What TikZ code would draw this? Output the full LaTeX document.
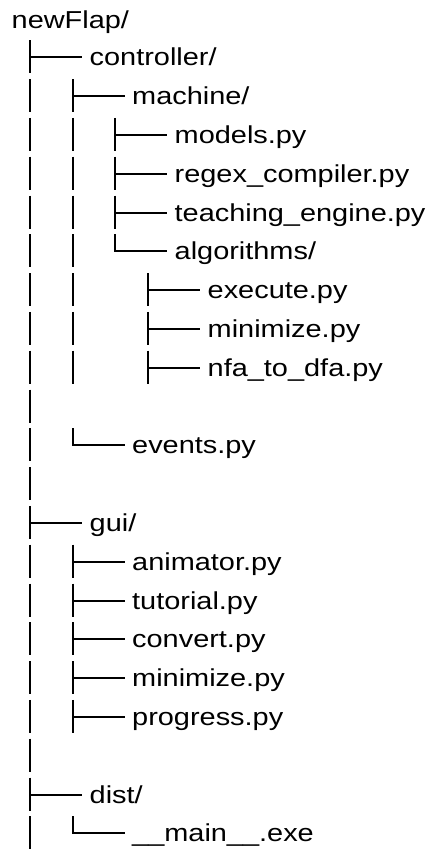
\documentclass[tikz,border=0pt]{standalone}
\usepackage{graphicx}
\usepackage{fontspec}
\setmainfont{Liberation Sans}
\newcommand\wide[1]{\scalebox{1.18}[1]{#1}}
\begin{document}
\begin{tikzpicture}[x=1pt,y=-1pt,
  tree/.style={line width=2pt, black},
  entry/.style={anchor=base west, inner xsep=7.5pt, inner ysep=0pt, font=\fontsize{24.5}{30}\selectfont},
  rootentry/.style={anchor=base west, inner sep=0pt, font=\fontsize{24.5}{30}\selectfont}]
\useasboundingbox[fill=white] (0,0) rectangle (436,849);
% columns
\def\cA{30}\def\cB{72.5}\def\cC{115}\def\cD{148}
% root
\node[rootentry] (root) at (11.5,28.5) {\wide{newFlap/}};
% entries: name / column / row / text
\foreach \n/\c/\r/\t in {
  controller/\cA/2/{controller/},
  machine/\cB/3/{machine/},
  models/\cC/4/{models.py},
  regex/\cC/5/{regex\_compiler.py},
  teaching/\cC/6/{teaching\_engine.py},
  algorithms/\cC/7/{algorithms/},
  execute/\cD/8/{execute.py},
  minimizeA/\cD/9/{minimize.py},
  nfa/\cD/10/{nfa\_to\_dfa.py},
  events/\cB/12/{events.py},
  gui/\cA/14/{gui/},
  animator/\cB/15/{animator.py},
  tutorial/\cB/16/{tutorial.py},
  convert/\cB/17/{convert.py},
  minimizeB/\cB/18/{minimize.py},
  progress/\cB/19/{progress.py},
  dist/\cA/21/{dist/},
  mainexe/\cB/22/{\_\_main\_\_.exe}}{
  \pgfmathsetmacro\yy{18.5+38.8*(\r-1)}
  \coordinate (\n-branch) at (\c,\yy);
  \node[entry] (\n) at (\c+52,\yy+8.5) {\wide{\t}};
  \draw[tree] (\n-branch) -- ([yshift=8.5pt]\n.base west);
}
% full vertical segments (│ and ├)
\foreach \c/\r in {\cA/2,\cA/3,\cA/4,\cA/5,\cA/6,\cA/7,\cA/8,\cA/9,\cA/10,\cA/11,\cA/12,\cA/13,\cA/14,\cA/15,\cA/16,\cA/17,\cA/18,\cA/19,\cA/20,\cA/21,\cA/22,
  \cB/3,\cB/4,\cB/5,\cB/6,\cB/7,\cB/8,\cB/9,\cB/10,\cB/15,\cB/16,\cB/17,\cB/18,\cB/19,
  \cC/4,\cC/5,\cC/6,
  \cD/8,\cD/9,\cD/10}{
  \pgfmathsetmacro\yy{18.5+38.8*(\r-1)}
  \draw[tree] (\c,\yy-17) -- (\c,\yy+16);
}
% half vertical segments (└)
\foreach \c/\r in {\cB/12,\cB/22,\cC/7}{
  \pgfmathsetmacro\yy{18.5+38.8*(\r-1)}
  \draw[tree] (\c,\yy-17) -- (\c,\yy+1);
}
\end{tikzpicture}
\end{document}
